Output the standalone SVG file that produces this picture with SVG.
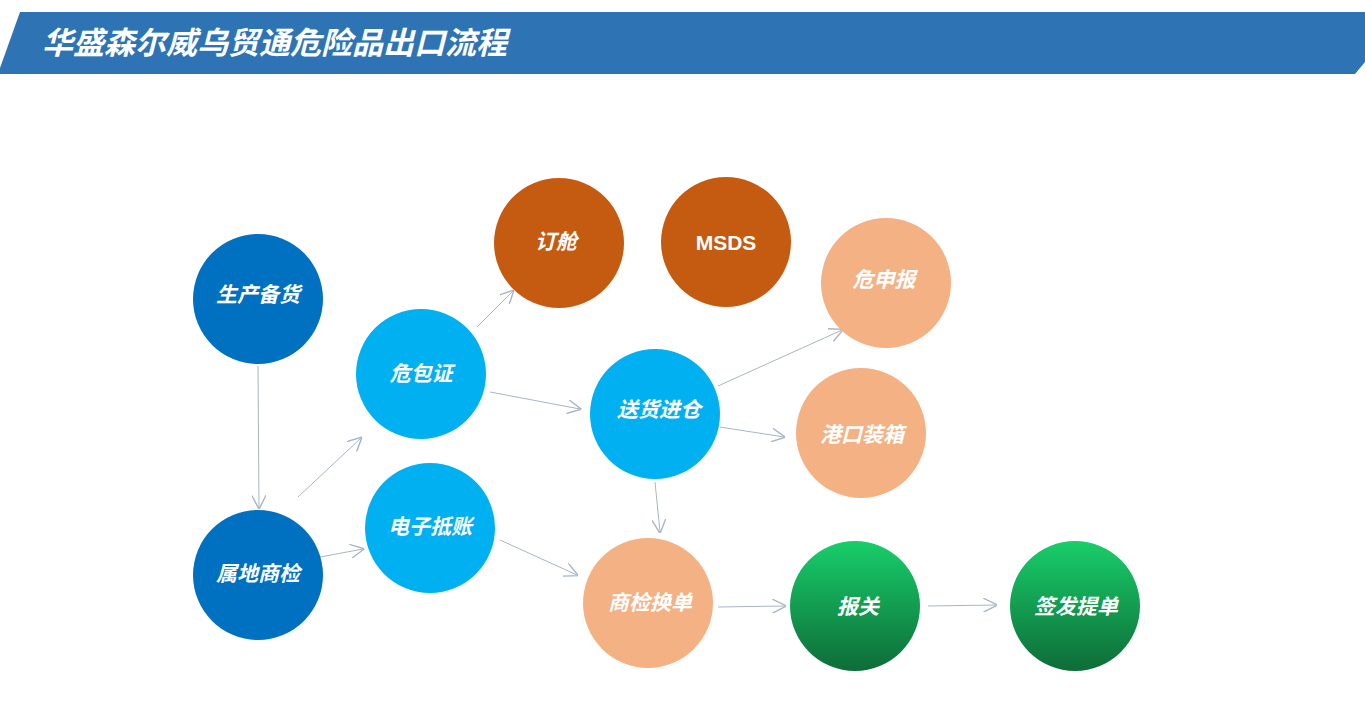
<svg xmlns="http://www.w3.org/2000/svg" width="1365" height="703" viewBox="0 0 1365 703">
<style>
.t{font-family:"Liberation Sans","Noto Sans CJK SC",sans-serif;font-weight:bold;font-style:italic;fill:#fff;font-size:21px;text-anchor:middle;dominant-baseline:central}
.c path{stroke:#A9B4C8;stroke-width:1;fill:none;marker-end:url(#a)}
</style>
<defs>
<marker id="a" viewBox="0 0 10 10" refX="9" refY="5" markerWidth="14" markerHeight="14" markerUnits="userSpaceOnUse" orient="auto"><path d="M0,0 L10,5 L0,10" fill="none" stroke="#A9B4C8" stroke-width="1"/></marker>
<linearGradient id="g" x1="0" y1="0" x2="0" y2="1"><stop offset="0" stop-color="#18CE6A"/><stop offset="1" stop-color="#0E6C38"/></linearGradient>
</defs>
<rect width="1365" height="703" fill="#fff"/>
<g id="header"><polygon points="20,12 1365,12 1365,62 1355,74 0,74 0,68" fill="#2E74B5"/>
<text x="42" y="43" style="font-family:'Liberation Sans','Noto Sans CJK SC',sans-serif;font-weight:bold;font-style:italic;font-size:31px;fill:#fff;dominant-baseline:central">华盛森尔威乌贸通危险品出口流程</text></g>
<g class="c" id="connectors">
<path d="M258,366 L259,508"/><path d="M298,497 L361,438"/><path d="M320,557 L363,549"/><path d="M477,327 L513,291"/><path d="M490,392 L580,409"/><path d="M500,540 L577,575"/><path d="M718,386 L842,330"/><path d="M720,427 L784,437"/><path d="M655,482 L660,532"/><path d="M718,607 L785,606"/><path d="M928,606 L996,605"/>
</g>
<g id="n1"><circle cx="258" cy="299" r="65" fill="#0070C0"/><text class="t" x="258" y="294">生产备货</text></g>
<g id="n2"><circle cx="258" cy="575" r="65" fill="#0070C0"/><text class="t" x="258" y="573">属地商检</text></g>
<g id="n3"><circle cx="421" cy="374" r="65" fill="#00B0F0"/><text class="t" x="421" y="373">危包证</text></g>
<g id="n4"><circle cx="430" cy="528" r="65" fill="#00B0F0"/><text class="t" x="430" y="526">电子抵账</text></g>
<g id="n5"><circle cx="559" cy="243" r="65" fill="#C55A11"/><text class="t" x="556" y="241">订舱</text></g>
<g id="n6"><circle cx="726" cy="242" r="65" fill="#C55A11"/><text class="t" x="726" y="242" style="font-style:normal">MSDS</text></g>
<g id="n7"><circle cx="655" cy="414" r="65" fill="#00B0F0"/><text class="t" x="659" y="409">送货进仓</text></g>
<g id="n8"><circle cx="886" cy="283" r="65" fill="#F4B183"/><text class="t" x="884" y="279">危申报</text></g>
<g id="n9"><circle cx="861" cy="433" r="65" fill="#F4B183"/><text class="t" x="862" y="434">港口装箱</text></g>
<g id="n10"><circle cx="648" cy="603" r="65" fill="#F4B183"/><text class="t" x="650" y="602">商检换单</text></g>
<g id="n11"><circle cx="855" cy="606" r="65" fill="url(#g)"/><text class="t" x="858" y="606">报关</text></g>
<g id="n12"><circle cx="1075" cy="606" r="65" fill="url(#g)"/><text class="t" x="1076" y="606">签发提单</text></g>
</svg>
